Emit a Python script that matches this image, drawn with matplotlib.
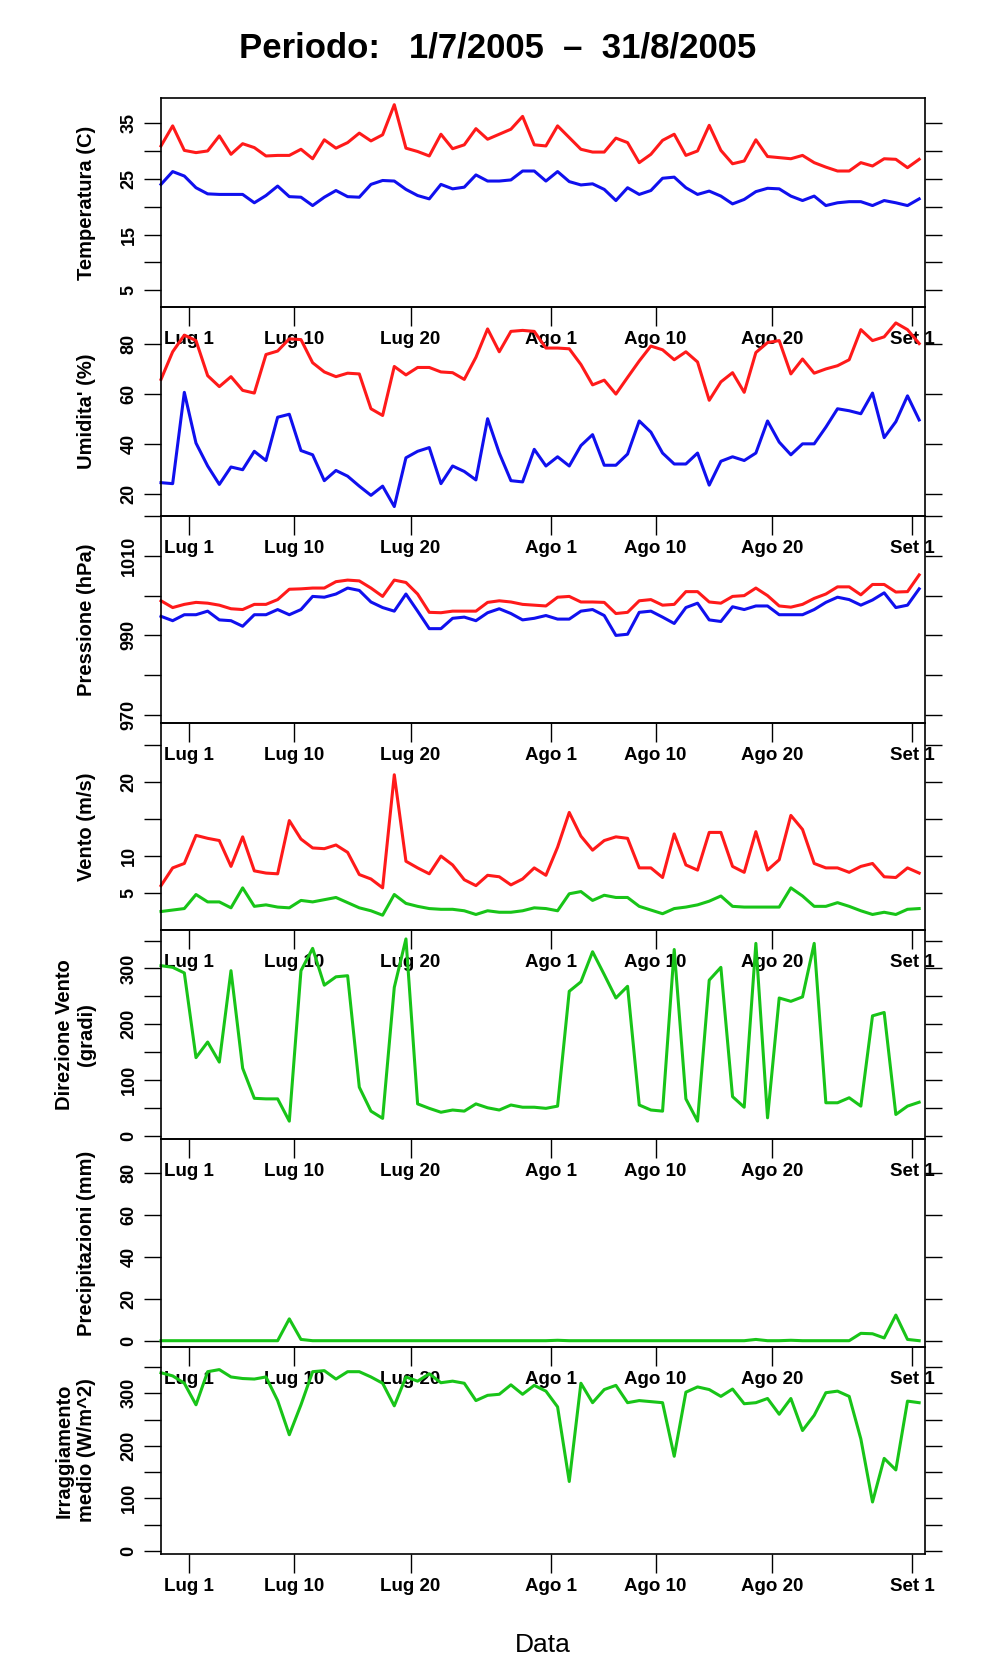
import numpy as np
import matplotlib

matplotlib.use("Agg")
import matplotlib.pyplot as plt

# x: days relative to 1 July 2005 (first sample sits ~2.4 days before the "Lug 1" tick)
X0 = -2.4
XTICKS = [0, 9, 19, 31, 40, 50, 62]
XLABELS = ["Lug 1", "Lug 10", "Lug 20", "Ago 1", "Ago 10", "Ago 20", "Set 1"]

temp_max = [30.9, 34.5, 30.1, 29.7, 30.0, 32.7, 29.4, 31.3, 30.6, 29.1, 29.2, 29.2, 30.3, 28.6, 32.0, 30.5,
            31.5, 33.2, 31.8, 32.9, 38.3, 30.5, 29.9, 29.1, 33.0, 30.4, 31.1, 34.0, 32.1, 33.0, 33.9, 36.2,
            31.1, 30.9, 34.5, 32.4, 30.3, 29.8, 29.8, 32.3, 31.5, 27.9, 29.4, 31.9, 33.0, 29.2, 30.0, 34.6,
            30.1, 27.7, 28.2, 32.0, 29.0, 28.8, 28.6, 29.2, 27.9, 27.1, 26.4, 26.4, 27.9, 27.3, 28.6, 28.5,
            27.0, 28.5]
temp_min = [24.0, 26.3, 25.5, 23.4, 22.3, 22.2, 22.2, 22.2, 20.7, 22.0, 23.7, 21.8, 21.7, 20.2, 21.7, 22.9,
            21.8, 21.7, 24.0, 24.7, 24.6, 23.1, 22.0, 21.4, 24.0, 23.2, 23.5, 25.7, 24.6, 24.6, 24.8, 26.4,
            26.4, 24.6, 26.3, 24.5, 23.9, 24.1, 23.1, 21.1, 23.4, 22.2, 22.9, 25.1, 25.3, 23.4, 22.2, 22.8,
            21.9, 20.5, 21.3, 22.7, 23.3, 23.2, 21.9, 21.1, 21.9, 20.2, 20.7, 20.9, 20.9, 20.2, 21.1, 20.7,
            20.2, 21.4]
hum_max = [65.9, 77.0, 83.7, 81.5, 67.4, 63.0, 67.0, 61.5, 60.4, 75.9, 77.3, 82.2, 81.9, 72.6, 68.9, 67.0,
           68.4, 68.1, 54.1, 51.4, 71.1, 67.7, 70.7, 70.7, 68.9, 68.6, 65.9, 74.8, 86.2, 77.0, 85.2, 85.6,
           85.2, 78.5, 78.5, 78.2, 71.9, 63.7, 65.6, 60.0, 66.7, 73.3, 79.3, 77.8, 73.8, 77.0, 72.9, 57.5,
           64.9, 68.6, 60.7, 76.7, 80.7, 81.5, 68.1, 74.1, 68.4, 70.1, 71.4, 73.8, 85.9, 81.5, 83.0, 88.6,
           85.9, 80.3]
hum_min = [24.4, 24.0, 60.7, 40.3, 31.1, 23.7, 30.7, 29.6, 37.0, 33.3, 50.7, 51.9, 37.3, 35.6, 25.2, 29.3,
           27.0, 23.0, 19.3, 23.0, 14.8, 34.4, 37.0, 38.5, 24.0, 31.1, 28.9, 25.5, 50.1, 36.3, 25.2, 24.7,
           37.8, 31.1, 34.8, 31.1, 39.3, 43.7, 31.4, 31.4, 35.9, 49.2, 44.7, 36.3, 31.9, 31.9, 36.3, 23.4,
           33.0, 34.8, 33.3, 36.3, 49.2, 40.7, 35.6, 40.0, 40.0, 46.7, 54.1, 53.3, 52.1, 60.4, 42.5, 48.9,
           59.3, 49.6]
pres_max = [998.7, 997.0, 997.8, 998.3, 998.1, 997.6, 996.7, 996.5, 997.8, 997.8, 999.0, 1001.6, 1001.7,
            1001.9, 1001.9, 1003.5, 1003.9, 1003.7, 1001.9, 999.8, 1003.9, 1003.3, 1000.4, 995.8, 995.7,
            996.1, 996.1, 996.1, 998.3, 998.7, 998.4, 997.8, 997.6, 997.4, 999.6, 999.8, 998.4, 998.4,
            998.3, 995.5, 995.8, 998.7, 999.0, 997.6, 997.8, 1001.0, 1001.0, 998.4, 998.1, 999.8, 1000.0,
            1001.9, 1000.0, 997.4, 997.1, 997.8, 999.3, 1000.4, 1002.2, 1002.2, 1000.2, 1002.8, 1002.8,
            1000.9, 1001.0, 1005.2]
pres_min = [994.8, 993.7, 995.2, 995.2, 996.1, 993.9, 993.7, 992.3, 995.2, 995.2, 996.5, 995.2, 996.5,
            999.8, 999.6, 1000.4, 1001.9, 1001.3, 998.4, 997.0, 996.1, 1000.4, 996.1, 991.7, 991.7, 994.3,
            994.6, 993.7, 995.7, 996.7, 995.5, 993.9, 994.3, 995.0, 994.1, 994.1, 996.1, 996.5, 995.0,
            990.0, 990.3, 995.8, 996.1, 994.6, 993.0, 997.0, 998.1, 993.9, 993.5, 997.2, 996.5, 997.4,
            997.4, 995.2, 995.2, 995.2, 996.5, 998.3, 999.6, 999.0, 997.6, 998.9, 1000.7, 997.0, 997.6,
            1001.7]
wind_max = [6.0, 8.4, 9.0, 12.8, 12.4, 12.1, 8.6, 12.6, 8.0, 7.7, 7.6, 14.8, 12.3, 11.1, 11.0, 11.5, 10.5,
            7.5, 6.9, 5.7, 21.0, 9.3, 8.4, 7.6, 10.0, 8.8, 6.8, 6.0, 7.4, 7.2, 6.1, 6.9, 8.4, 7.4, 11.2,
            15.9, 12.7, 10.8, 12.1, 12.6, 12.4, 8.4, 8.4, 7.1, 13.0, 8.8, 8.1, 13.2, 13.2, 8.6, 7.8, 13.3,
            8.1, 9.5, 15.5, 13.6, 9.0, 8.4, 8.4, 7.8, 8.6, 9.0, 7.2, 7.1, 8.4, 7.7]
wind_mean = [2.5, 2.7, 2.9, 4.8, 3.8, 3.8, 3.0, 5.7, 3.2, 3.4, 3.1, 3.0, 4.0, 3.8, 4.1, 4.4, 3.7, 3.0, 2.6,
             2.0, 4.8, 3.6, 3.2, 2.9, 2.8, 2.8, 2.6, 2.1, 2.6, 2.4, 2.4, 2.6, 3.0, 2.9, 2.6, 4.9, 5.2, 4.0,
             4.7, 4.4, 4.4, 3.2, 2.7, 2.2, 2.9, 3.1, 3.4, 3.9, 4.6, 3.2, 3.1, 3.1, 3.1, 3.1, 5.7, 4.6, 3.2,
             3.2, 3.7, 3.2, 2.6, 2.1, 2.4, 2.1, 2.8, 2.9]
wind_dir = [305, 302, 292, 140, 168, 132, 296, 121, 67, 66, 66, 26, 296, 336, 270, 285, 287, 87, 44, 31,
            266, 353, 57, 49, 42, 46, 44, 57, 50, 46, 55, 51, 51, 49, 53, 259, 276, 330, 289, 247, 268, 55,
            46, 44, 334, 66, 26, 279, 302, 70, 51, 345, 32, 247, 241, 249, 345, 59, 59, 68, 53, 215, 221,
            38, 53, 60]
rain = [0, 0, 0, 0, 0, 0, 0, 0, 0, 0, 0, 10.4, 0.6, 0, 0, 0, 0, 0, 0, 0, 0, 0, 0, 0, 0, 0, 0, 0, 0, 0,
        0, 0, 0, 0, 0.2, 0, 0, 0, 0, 0, 0, 0, 0, 0, 0, 0, 0, 0, 0, 0, 0, 0.6, 0, 0, 0.2, 0, 0, 0, 0, 0,
        3.5, 3.3, 1.3, 12.2, 0.6, 0]
radiation = [339, 333, 319, 278, 341, 345, 331, 328, 327, 331, 286, 221, 278, 341, 343, 327, 341, 341, 331,
             319, 276, 331, 323, 337, 320, 323, 319, 286, 296, 298, 316, 298, 315, 304, 274, 132, 319, 282,
             307, 315, 282, 286, 284, 282, 180, 302, 312, 307, 294, 308, 280, 282, 290, 260, 290, 229, 258,
             301, 304, 294, 213, 93, 176, 154, 285, 282]

RED, BLUE, GREEN = "#ff1a1a", "#1010ee", "#18c418"
NARROW = ["Liberation Sans Narrow", "Liberation Sans", "DejaVu Sans"]

# (ylabel, ylim, all ticks, labelled ticks, [(series, colour)])
PANELS = [
    ("Temperatura (C)", (2, 39.5), range(5, 40, 5), [5, 15, 25, 35], [(temp_max, RED), (temp_min, BLUE)]),
    ("Umidita' (%)", (11, 95), [20, 40, 60, 80], [20, 40, 60, 80], [(hum_max, RED), (hum_min, BLUE)]),
    ("Pressione (hPa)", (968, 1020), range(970, 1021, 10), [970, 990, 1010], [(pres_max, RED), (pres_min, BLUE)]),
    ("Vento (m/s)", (0, 28), range(5, 26, 5), [5, 10, 20], [(wind_max, RED), (wind_mean, GREEN)]),
    ("Direzione Vento\n(gradi)", (-6, 369), range(0, 351, 50), [0, 100, 200, 300], [(wind_dir, GREEN)]),
    ("Precipitazioni (mm)", (-3, 96), range(0, 81, 20), [0, 20, 40, 60, 80], [(rain, GREEN)]),
    ("Irraggiamento\nmedio (W/m^2)", (-6, 388), range(0, 351, 50), [0, 100, 200, 300], [(radiation, GREEN)]),
]

W, H = 996, 1680
fig = plt.figure(figsize=(W / 100, H / 100), dpi=100)
tops = [98, 307, 516, 723, 930, 1139, 1347, 1554]
left, right = 161, 925

for i, (ylab, ylim, ticks, labelled, series) in enumerate(PANELS):
    y0, y1 = tops[i], tops[i + 1]
    ax = fig.add_axes([left / W, 1 - y1 / H, (right - left) / W, (y1 - y0) / H])
    ax.set_facecolor("none")
    for vals, col in series:
        xs = X0 + np.arange(len(vals))
        ax.plot(xs, vals, color=col, lw=2.2, clip_on=False)
    ax.set_xlim(X0, X0 + 65.5)
    ax.set_ylim(*ylim)
    ax.set_xticks(XTICKS)
    ax.set_xticklabels(XLABELS, fontfamily=NARROW, fontweight="bold", fontsize=13.5)
    ax.set_yticks(list(ticks))
    ax.set_yticklabels([str(t) if t in labelled else "" for t in ticks], rotation=90, va="center",
                       fontfamily=NARROW, fontweight="bold", fontsize=13)
    ax.tick_params(axis="x", direction="out", length=14, width=1, pad=3)
    ax.tick_params(axis="y", direction="out", length=12, width=1, pad=5, right=True)
    for s in ax.spines.values():
        s.set_linewidth(1.2)
    ax.set_ylabel(ylab, fontfamily=NARROW, fontweight="bold", fontsize=14.5, linespacing=1.2)
    ax.yaxis.set_label_coords(-0.085, 0.5)

fig.text(0.5, 1 - 48 / H, "Periodo:   1/7/2005  –  31/8/2005", ha="center", va="center",
         fontsize=25, fontweight="bold", family=["Liberation Sans", "DejaVu Sans"])
fig.text((left + right) / 2 / W, 1 - 1645 / H, "Data", ha="center", va="center",
         fontsize=19, family=["Liberation Sans", "DejaVu Sans"])

fig.savefig("out.png", dpi=100)
